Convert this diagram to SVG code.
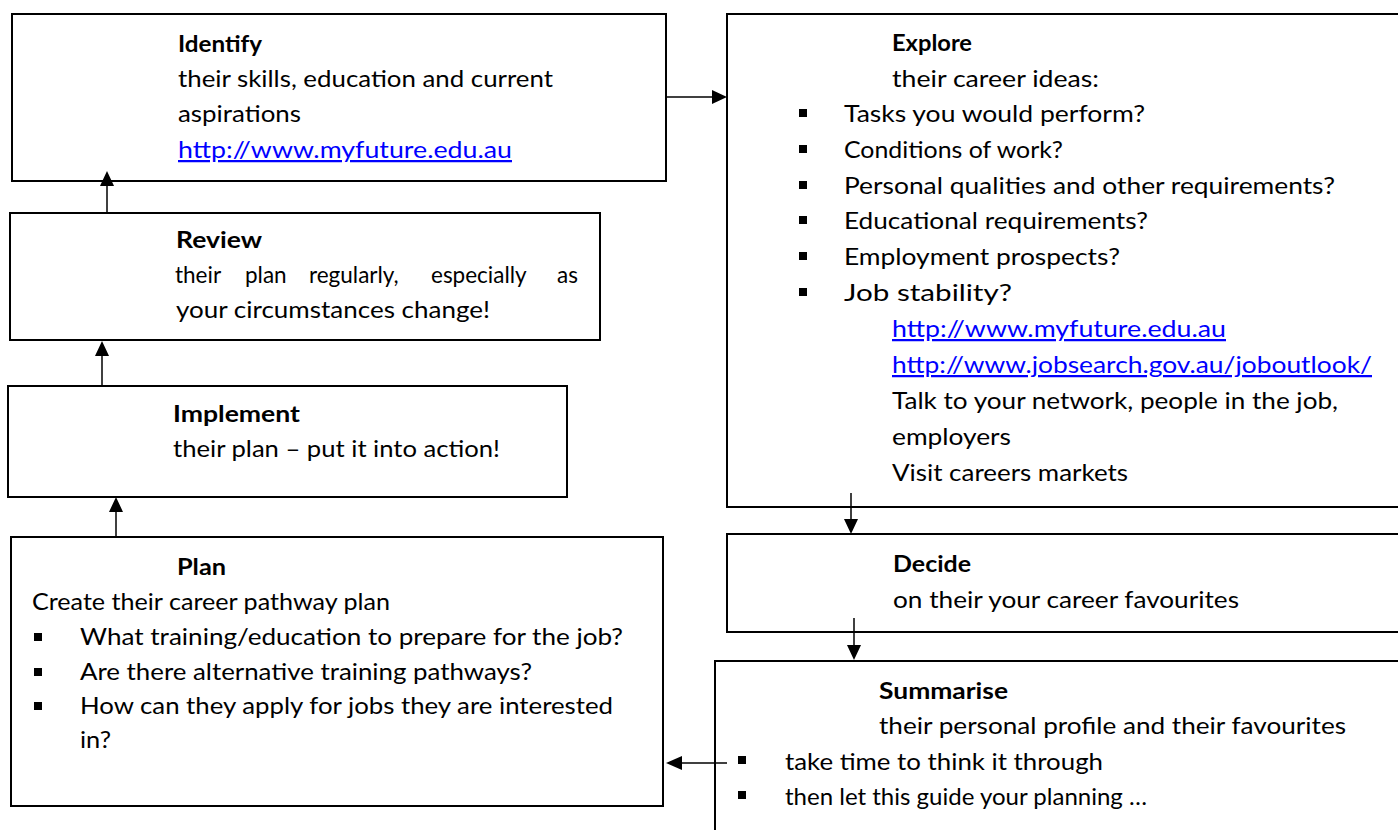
<svg xmlns="http://www.w3.org/2000/svg" width="1398" height="830" viewBox="0 0 1398 830">
  <style>
    .box { fill: #ffffff; stroke: #000000; stroke-width: 2; }
    .t { font-family: Lato, "Open Sans", "Liberation Sans", sans-serif; font-size: 22.5px; fill: #000000; }
    .h { font-weight: bold; }
    .link { fill: #0000ff; text-decoration: underline; }
    .bul { fill: #000000; }
    .conn { stroke: #000000; stroke-width: 1.5; fill: none; }
    .head { fill: #000000; }
  </style>
  <rect width="1398" height="830" fill="#ffffff"/>

  <!-- Identify -->
  <g id="identify">
    <rect class="box" x="12" y="14" width="654" height="167"/>
    <text class="t h" x="178" y="52" textLength="84" lengthAdjust="spacingAndGlyphs">Identify</text>
    <text class="t" x="178" y="87" textLength="375" lengthAdjust="spacingAndGlyphs">their skills, education and current</text>
    <text class="t" x="178" y="122" textLength="123" lengthAdjust="spacingAndGlyphs">aspirations</text>
    <text class="t link" x="178" y="158" textLength="334" lengthAdjust="spacingAndGlyphs">http://www.myfuture.edu.au</text>
  </g>

  <!-- Review -->
  <g id="review">
    <rect class="box" x="10" y="213" width="590" height="127"/>
    <text class="t h" x="176" y="248" textLength="86" lengthAdjust="spacingAndGlyphs">Review</text>
    <text class="t" y="283"><tspan x="175">their</tspan><tspan x="245">plan</tspan><tspan x="309">regularly,</tspan><tspan x="431">especially</tspan><tspan x="557">as</tspan></text>
    <text class="t" x="176" y="318" textLength="314" lengthAdjust="spacingAndGlyphs">your circumstances change!</text>
  </g>

  <!-- Implement -->
  <g id="implement">
    <rect class="box" x="8" y="386" width="559" height="111"/>
    <text class="t h" x="173" y="422" textLength="127" lengthAdjust="spacingAndGlyphs">Implement</text>
    <text class="t" x="173" y="457" textLength="327" lengthAdjust="spacingAndGlyphs">their plan – put it into action!</text>
  </g>

  <!-- Plan -->
  <g id="plan">
    <rect class="box" x="11" y="537" width="652" height="269"/>
    <text class="t h" x="177" y="575" textLength="49" lengthAdjust="spacingAndGlyphs">Plan</text>
    <text class="t" x="32" y="610" textLength="358" lengthAdjust="spacingAndGlyphs">Create their career pathway plan</text>
    <rect class="bul" x="34" y="633" width="8" height="8"/>
    <text class="t" x="80" y="645" textLength="543" lengthAdjust="spacingAndGlyphs">What training/education to prepare for the job?</text>
    <rect class="bul" x="34" y="668" width="8" height="8"/>
    <text class="t" x="80" y="680" textLength="452" lengthAdjust="spacingAndGlyphs">Are there alternative training pathways?</text>
    <rect class="bul" x="34" y="702" width="8" height="8"/>
    <text class="t" x="80" y="714" textLength="533" lengthAdjust="spacingAndGlyphs">How can they apply for jobs they are interested</text>
    <text class="t" x="80" y="748" textLength="31" lengthAdjust="spacingAndGlyphs">in?</text>
  </g>

  <!-- Explore -->
  <g id="explore">
    <rect class="box" x="727" y="14" width="680" height="493"/>
    <text class="t h" x="892" y="51" textLength="80" lengthAdjust="spacingAndGlyphs">Explore</text>
    <text class="t" x="892" y="87" textLength="207" lengthAdjust="spacingAndGlyphs">their career ideas:</text>
    <rect class="bul" x="799" y="109" width="8" height="8"/>
    <text class="t" x="844" y="122" textLength="301" lengthAdjust="spacingAndGlyphs">Tasks you would perform?</text>
    <rect class="bul" x="799" y="145" width="8" height="8"/>
    <text class="t" x="844" y="158" textLength="219" lengthAdjust="spacingAndGlyphs">Conditions of work?</text>
    <rect class="bul" x="799" y="181" width="8" height="8"/>
    <text class="t" x="844" y="194" textLength="491" lengthAdjust="spacingAndGlyphs">Personal qualities and other requirements?</text>
    <rect class="bul" x="799" y="216" width="8" height="8"/>
    <text class="t" x="844" y="229" textLength="304" lengthAdjust="spacingAndGlyphs">Educational requirements?</text>
    <rect class="bul" x="799" y="252" width="8" height="8"/>
    <text class="t" x="844" y="265" textLength="276" lengthAdjust="spacingAndGlyphs">Employment prospects?</text>
    <rect class="bul" x="799" y="288" width="8" height="8"/>
    <text class="t" x="844" y="301" textLength="168" lengthAdjust="spacingAndGlyphs">Job stability?</text>
    <text class="t link" x="892" y="337" textLength="334" lengthAdjust="spacingAndGlyphs">http://www.myfuture.edu.au</text>
    <text class="t link" x="892" y="373" textLength="480" lengthAdjust="spacingAndGlyphs">http://www.jobsearch.gov.au/joboutlook/</text>
    <text class="t" x="892" y="409" textLength="446" lengthAdjust="spacingAndGlyphs">Talk to your network, people in the job,</text>
    <text class="t" x="892" y="445" textLength="119" lengthAdjust="spacingAndGlyphs">employers</text>
    <text class="t" x="892" y="481" textLength="236" lengthAdjust="spacingAndGlyphs">Visit careers markets</text>
  </g>

  <!-- Decide -->
  <g id="decide">
    <rect class="box" x="727" y="534" width="680" height="98"/>
    <text class="t h" x="893" y="572" textLength="78" lengthAdjust="spacingAndGlyphs">Decide</text>
    <text class="t" x="893" y="608" textLength="346" lengthAdjust="spacingAndGlyphs">on their your career favourites</text>
  </g>

  <!-- Summarise -->
  <g id="summarise">
    <rect class="box" x="715" y="661" width="692" height="180"/>
    <text class="t h" x="879" y="699" textLength="129" lengthAdjust="spacingAndGlyphs">Summarise</text>
    <text class="t" x="879" y="734" textLength="467" lengthAdjust="spacingAndGlyphs">their personal profile and their favourites</text>
    <rect class="bul" x="738" y="756" width="8" height="8"/>
    <text class="t" x="785" y="770" textLength="318" lengthAdjust="spacingAndGlyphs">take time to think it through</text>
    <rect class="bul" x="738" y="791" width="8" height="8"/>
    <text class="t" x="785" y="805" textLength="362" lengthAdjust="spacingAndGlyphs">then let this guide your planning …</text>
  </g>

  <!-- Connectors -->
  <g id="connectors">
    <!-- Identify to Explore -->
    <line class="conn" x1="666" y1="97" x2="713" y2="97"/>
    <polygon class="head" points="712,90 727,97 712,104"/>
    <!-- Review to Identify -->
    <line class="conn" x1="107" y1="213" x2="107" y2="185"/>
    <polygon class="head" points="100,186 107,171 114,186"/>
    <!-- Implement to Review -->
    <line class="conn" x1="102" y1="386" x2="102" y2="355"/>
    <polygon class="head" points="95,356 102,341 109,356"/>
    <!-- Plan to Implement -->
    <line class="conn" x1="116" y1="537" x2="116" y2="511"/>
    <polygon class="head" points="109,512 116,497 123,512"/>
    <!-- Explore to Decide -->
    <line class="conn" x1="851" y1="493" x2="851" y2="520"/>
    <polygon class="head" points="844,519 851,534 858,519"/>
    <!-- Decide to Summarise -->
    <line class="conn" x1="854" y1="618" x2="854" y2="646"/>
    <polygon class="head" points="847,645 854,660 861,645"/>
    <!-- Summarise to Plan -->
    <line class="conn" x1="727" y1="763" x2="681" y2="763"/>
    <polygon class="head" points="682,756 666,763 682,770"/>
  </g>
</svg>
